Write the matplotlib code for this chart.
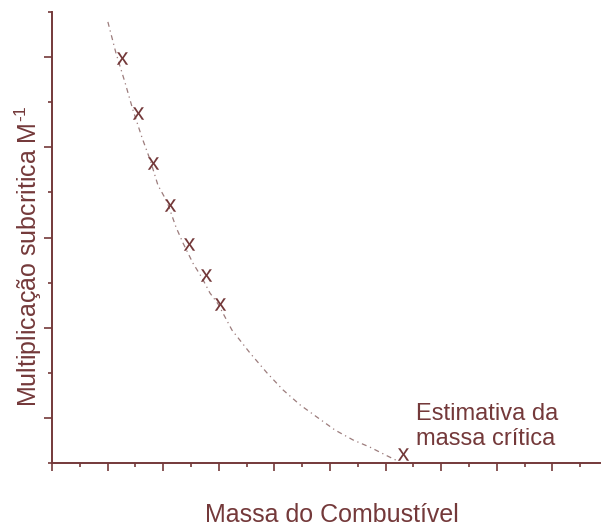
import numpy as np
import matplotlib.pyplot as plt
from matplotlib.ticker import FixedLocator

plt.rcParams['font.family'] = ['Liberation Sans', 'DejaVu Sans']
plt.rcParams['mathtext.fontset'] = 'custom'
plt.rcParams['mathtext.rm'] = 'Liberation Sans'
plt.rcParams['mathtext.it'] = 'Liberation Sans'

# measured points (fuel mass vs inverse multiplication)
massa = [2.52, 3.09, 3.63, 4.24, 4.93, 5.54, 6.04]
inv_m = [8.98, 7.76, 6.65, 5.72, 4.86, 4.17, 3.53]

# extrapolated critical mass estimate
massa_crit = 12.63
inv_m_crit = 0.20

# dashed trend curve
curva_x = [2.01, 2.30, 2.63, 2.91, 3.24, 3.53, 3.81, 4.14, 4.46, 4.71, 5.07,
           5.40, 5.68, 5.97, 6.47, 7.12, 7.73, 8.31, 8.92, 9.57, 10.18, 10.83,
           11.44, 12.05, 12.45]
curva_y = [9.78, 9.09, 8.43, 7.83, 7.21, 6.72, 6.16, 5.79, 5.23, 4.88, 4.43,
           4.10, 3.77, 3.53, 2.95, 2.44, 2.00, 1.62, 1.29, 1.00, 0.73, 0.51,
           0.35, 0.16, 0.04]

cor = '#74393a'

fig = plt.figure(figsize=(6.01, 5.26), dpi=100)
ax = fig.add_axes([52 / 601, 63 / 526, 548 / 601, 451 / 526])

ax.plot(curva_x, curva_y, color='#9c7c7c', lw=0.9, dashes=(4, 3, 1, 3))
ax.plot(massa, inv_m, ls='none', marker=r'$\mathrm{x}$', ms=9, mew=0,
        color=cor)
ax.plot([massa_crit], [inv_m_crit], ls='none', marker=r'$\mathrm{x}$', ms=9,
        mew=0, color=cor)

ax.set_xlim(0, 19.71)
ax.set_ylim(0, 10)

for s in ['top', 'right']:
    ax.spines[s].set_visible(False)
for s in ['left', 'bottom']:
    ax.spines[s].set_color(cor)
    ax.spines[s].set_linewidth(1.4)

ax.xaxis.set_major_locator(FixedLocator(np.arange(0, 19, 2)))
ax.xaxis.set_minor_locator(FixedLocator(np.arange(1, 20, 2)))
ax.yaxis.set_major_locator(FixedLocator(np.arange(1, 10, 2)))
ax.yaxis.set_minor_locator(FixedLocator(np.arange(0, 11, 2)))
ax.tick_params(which='major', length=6, width=1.2, color=cor,
               labelbottom=False, labelleft=False)
ax.tick_params(which='minor', length=2.8, width=1.2, color=cor)

ax.set_xlabel('Massa do Combustível', fontsize=18, color=cor, va='baseline')
ax.xaxis.set_label_coords(0.51, -0.131)
ax.set_ylabel(r'Multiplicação subcritica M$^{\text{-1}}$', fontsize=18,
              color=cor, va='baseline')
ax.yaxis.set_label_coords(-0.0274, 0.459)

ax.text(0.665, 0.040, 'Estimativa da\nmassa crítica', transform=ax.transAxes,
        fontsize=17, color=cor, ha='left', va='baseline')

fig.savefig('out.png', dpi=100)
